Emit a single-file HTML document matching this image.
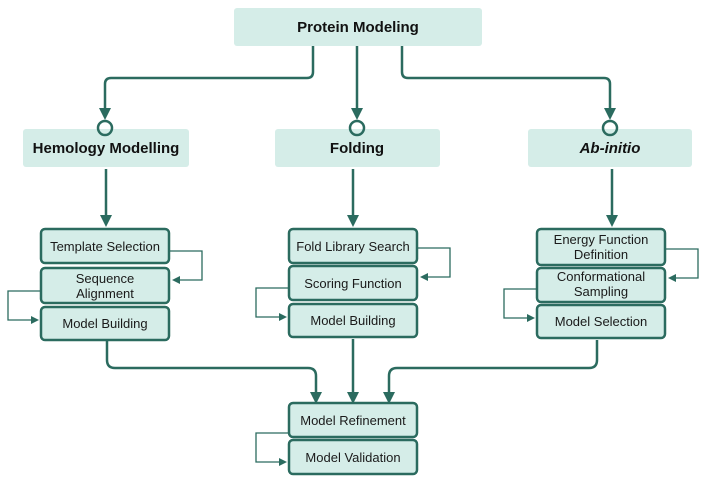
<!DOCTYPE html>
<html><head><meta charset="utf-8"><style>
html,body{margin:0;padding:0;background:#fff;}
svg{display:block;font-family:"Liberation Sans",sans-serif;}
</style></head><body>
<svg width="708" height="484" viewBox="0 0 708 484" xmlns="http://www.w3.org/2000/svg">
<defs>
<marker id="a" markerWidth="8" markerHeight="8" refX="6" refY="4" orient="auto" markerUnits="userSpaceOnUse">
<path d="M0,0 L8,4 L0,8 z" fill="#2b6b5f"/></marker>
<marker id="b" markerWidth="12" markerHeight="12" refX="9" refY="6" orient="auto" markerUnits="userSpaceOnUse">
<path d="M0,0 L12,6 L0,12 z" fill="#2b6b5f"/></marker>
</defs>
<g fill="#d5ede8">
<rect x="234" y="8" width="248" height="38" rx="3"/>
<rect x="23" y="129" width="166" height="38" rx="3"/>
<rect x="275" y="129" width="165" height="38" rx="3"/>
<rect x="528" y="129" width="164" height="38" rx="3"/>
</g>
<g font-weight="bold" font-size="15" fill="#111" text-anchor="middle">
<text x="358" y="32">Protein Modeling</text>
<text x="106" y="153">Hemology Modelling</text>
<text x="357" y="153">Folding</text>
<text x="610" y="153" font-style="italic">Ab-initio</text>
</g>
<g fill="none" stroke="#2b6b5f" stroke-width="2.5">
<path d="M313 46 V72 Q313 78 307 78 H111 Q105 78 105 84 V117" marker-end="url(#b)"/>
<path d="M357 46 V117" marker-end="url(#b)"/>
<path d="M402 46 V72 Q402 78 408 78 H604 Q610 78 610 84 V117" marker-end="url(#b)"/>
<circle cx="105" cy="128" r="7"/>
<circle cx="357" cy="128" r="7"/>
<circle cx="610" cy="128" r="7"/>
<path d="M106 169 V224" marker-end="url(#b)"/>
<path d="M353 169 V224" marker-end="url(#b)"/>
<path d="M612 169 V224" marker-end="url(#b)"/>
<path d="M107 341 V360 Q107 368 115 368 H308 Q316 368 316 376 V401" marker-end="url(#b)"/>
<path d="M353 339 V401" marker-end="url(#b)"/>
<path d="M597 340 V360 Q597 368 589 368 H397 Q389 368 389 376 V401" marker-end="url(#b)"/>
</g>
<g fill="none" stroke="#2b6b5f" stroke-width="1.3">
<path d="M169 251 H202 V280 H174" marker-end="url(#a)"/>
<path d="M41 291 H8 V320 H37" marker-end="url(#a)"/>
<path d="M417 248 H450 V277 H422" marker-end="url(#a)"/>
<path d="M289 288 H256 V317 H285" marker-end="url(#a)"/>
<path d="M665 249 H698 V278 H670" marker-end="url(#a)"/>
<path d="M537 289 H504 V318 H533" marker-end="url(#a)"/>
<path d="M289 433 H256 V462 H285" marker-end="url(#a)"/>
</g>
<g fill="#d5ede8" stroke="#2b6b5f" stroke-width="2.5">
<rect x="41" y="229" width="128" height="34" rx="4"/>
<rect x="41" y="268" width="128" height="35" rx="4"/>
<rect x="41" y="307" width="128" height="33" rx="4"/>
<rect x="289" y="229" width="128" height="34" rx="4"/>
<rect x="289" y="266" width="128" height="34" rx="4"/>
<rect x="289" y="304" width="128" height="33" rx="4"/>
<rect x="537" y="229" width="128" height="36" rx="4"/>
<rect x="537" y="268" width="128" height="34" rx="4"/>
<rect x="537" y="305" width="128" height="33" rx="4"/>
<rect x="289" y="403" width="128" height="34" rx="4"/>
<rect x="289" y="440" width="128" height="34" rx="4"/>
</g>
<g font-size="13" fill="#1a1a1a" text-anchor="middle">
<text x="105" y="251">Template Selection</text>
<text x="105" y="283">Sequence</text>
<text x="105" y="298">Alignment</text>
<text x="105" y="328">Model Building</text>
<text x="353" y="251">Fold Library Search</text>
<text x="353" y="288">Scoring Function</text>
<text x="353" y="325">Model Building</text>
<text x="601" y="244">Energy Function</text>
<text x="601" y="259">Definition</text>
<text x="601" y="281">Conformational</text>
<text x="601" y="296">Sampling</text>
<text x="601" y="326">Model Selection</text>
<text x="353" y="425">Model Refinement</text>
<text x="353" y="462">Model Validation</text>
</g>
</svg>
</body></html>
